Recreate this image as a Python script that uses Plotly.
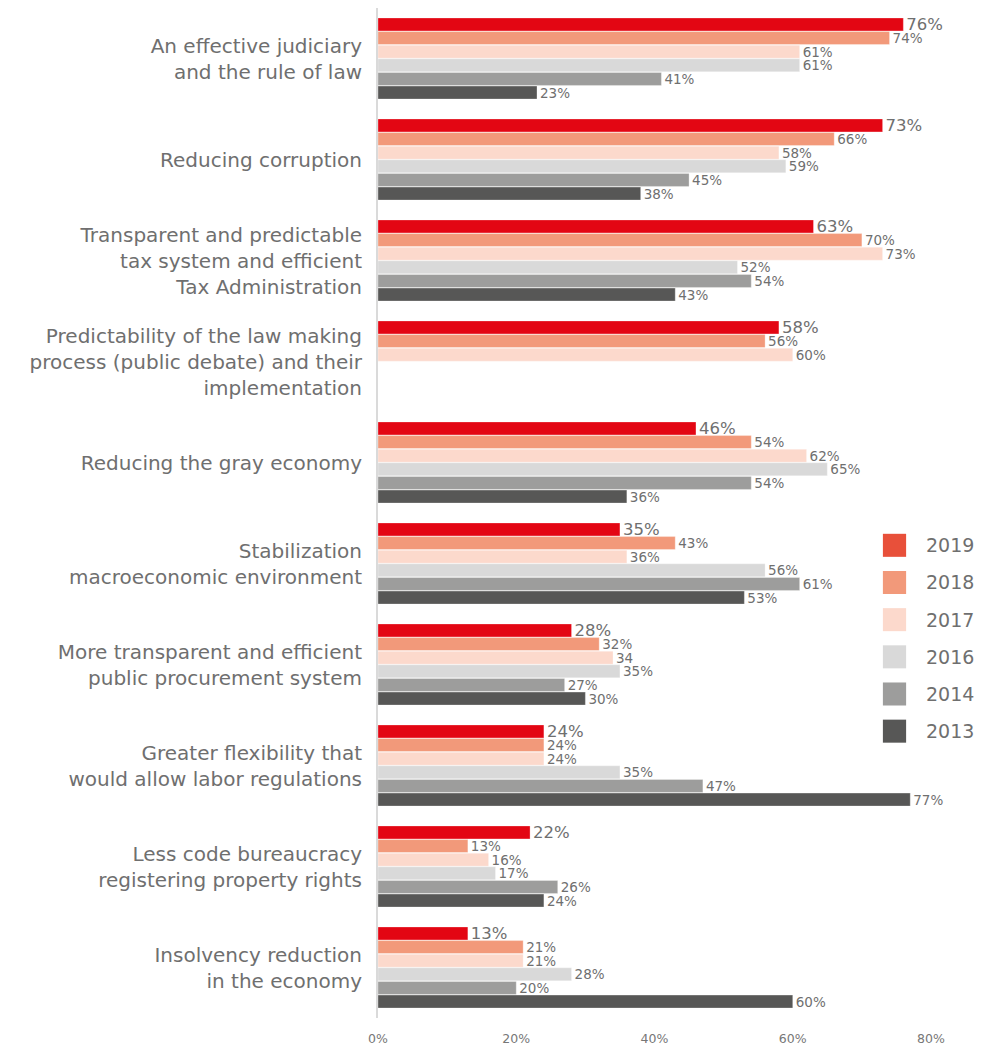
import plotly.graph_objects as go

categories = [
    "An effective judiciary<br>and the rule of law",
    "Reducing corruption",
    "Transparent and predictable<br>tax system and efficient<br>Tax Administration",
    "Predictability of the law making<br>process (public debate) and their<br>implementation",
    "Reducing the gray economy",
    "Stabilization<br>macroeconomic environment",
    "More transparent and efficient<br>public procurement system",
    "Greater flexibility that<br>would allow labor regulations",
    "Less code bureaucracy<br>registering property rights",
    "Insolvency reduction<br>in the economy",
]

years = ["2019", "2018", "2017", "2016", "2014", "2013"]

v2019 = [76, 73, 63, 58, 46, 35, 28, 24, 22, 13]
v2018 = [74, 66, 70, 56, 54, 43, 32, 24, 13, 21]
v2017 = [61, 58, 73, 60, 62, 36, 34, 24, 16, 21]
v2016 = [61, 59, 52, None, 65, 56, 35, 35, 17, 28]
v2014 = [41, 45, 54, None, 54, 61, 27, 47, 26, 20]
v2013 = [23, 38, 43, None, 36, 53, 30, 77, 24, 60]

series = [v2019, v2018, v2017, v2016, v2014, v2013]

# label overrides (as printed in the source)
label_overrides = {("2017", 6): "34"}

bar_colors = ["#E30613", "#F2997A", "#FCD9CC", "#D9D9D9", "#9D9D9C", "#575756"]
legend_colors = ["#E8503A", "#F2997A", "#FCD9CC", "#D9D9D9", "#9D9D9C", "#575756"]

x_tick_vals = [0, 20, 40, 60, 80]
x_tick_text = ["0%", "20%", "40%", "60%", "80%"]

FONT = "DejaVu Sans"
GRAY = "#6f6f6f"

fig = go.Figure()
for yr, vals, col in zip(years, series, bar_colors):
    texts = []
    for i, v in enumerate(vals):
        if v is None:
            texts.append("")
        else:
            texts.append(label_overrides.get((yr, i), f"{v}%"))
    fig.add_trace(go.Bar(
        y=categories, x=vals, name=yr, orientation="h",
        marker=dict(color=col, line=dict(color="rgba(255,255,255,0.6)", width=0.5)),
        text=texts, textposition="outside", constraintext="none", cliponaxis=False,
        textfont=dict(family=FONT, size=16.5 if yr == "2019" else 13.5, color=GRAY),
        showlegend=False,
    ))

# manual legend built from the year list
leg_top = 0.468
leg_step = 0.0368
for i, (yr, col) in enumerate(zip(years, legend_colors)):
    yc = leg_top - i * leg_step
    fig.add_shape(type="rect", xref="paper", yref="paper",
                  x0=0.913, x1=0.955, y0=yc - 0.0114, y1=yc + 0.0114,
                  fillcolor=col, line=dict(width=0))
    fig.add_annotation(xref="paper", yref="paper", x=0.987, y=yc, text=yr,
                       showarrow=False, xanchor="left", yanchor="middle",
                       font=dict(family=FONT, size=19, color=GRAY))

fig.update_layout(
    width=994, height=1047,
    margin=dict(l=378, r=63, t=8, b=29),
    barmode="group", bargap=0.19, bargroupgap=0.05,
    plot_bgcolor="white", paper_bgcolor="white",
    font=dict(family=FONT, color=GRAY),
    xaxis=dict(range=[0, 80], tickvals=x_tick_vals, ticktext=x_tick_text,
               showgrid=False, zeroline=False, showline=False,
               ticks="outside", ticklen=9, tickcolor="rgba(0,0,0,0)",
               tickfont=dict(family=FONT, size=12.5, color="#777777"), automargin=False),
    yaxis=dict(autorange="reversed", showgrid=False, zeroline=False,
               showline=True, linecolor="#DADADA", linewidth=2,
               ticks="outside", ticklen=10, tickcolor="rgba(0,0,0,0)",
               tickfont=dict(family=FONT, size=20, color=GRAY), automargin=False),
)

fig.write_html("out.html")
